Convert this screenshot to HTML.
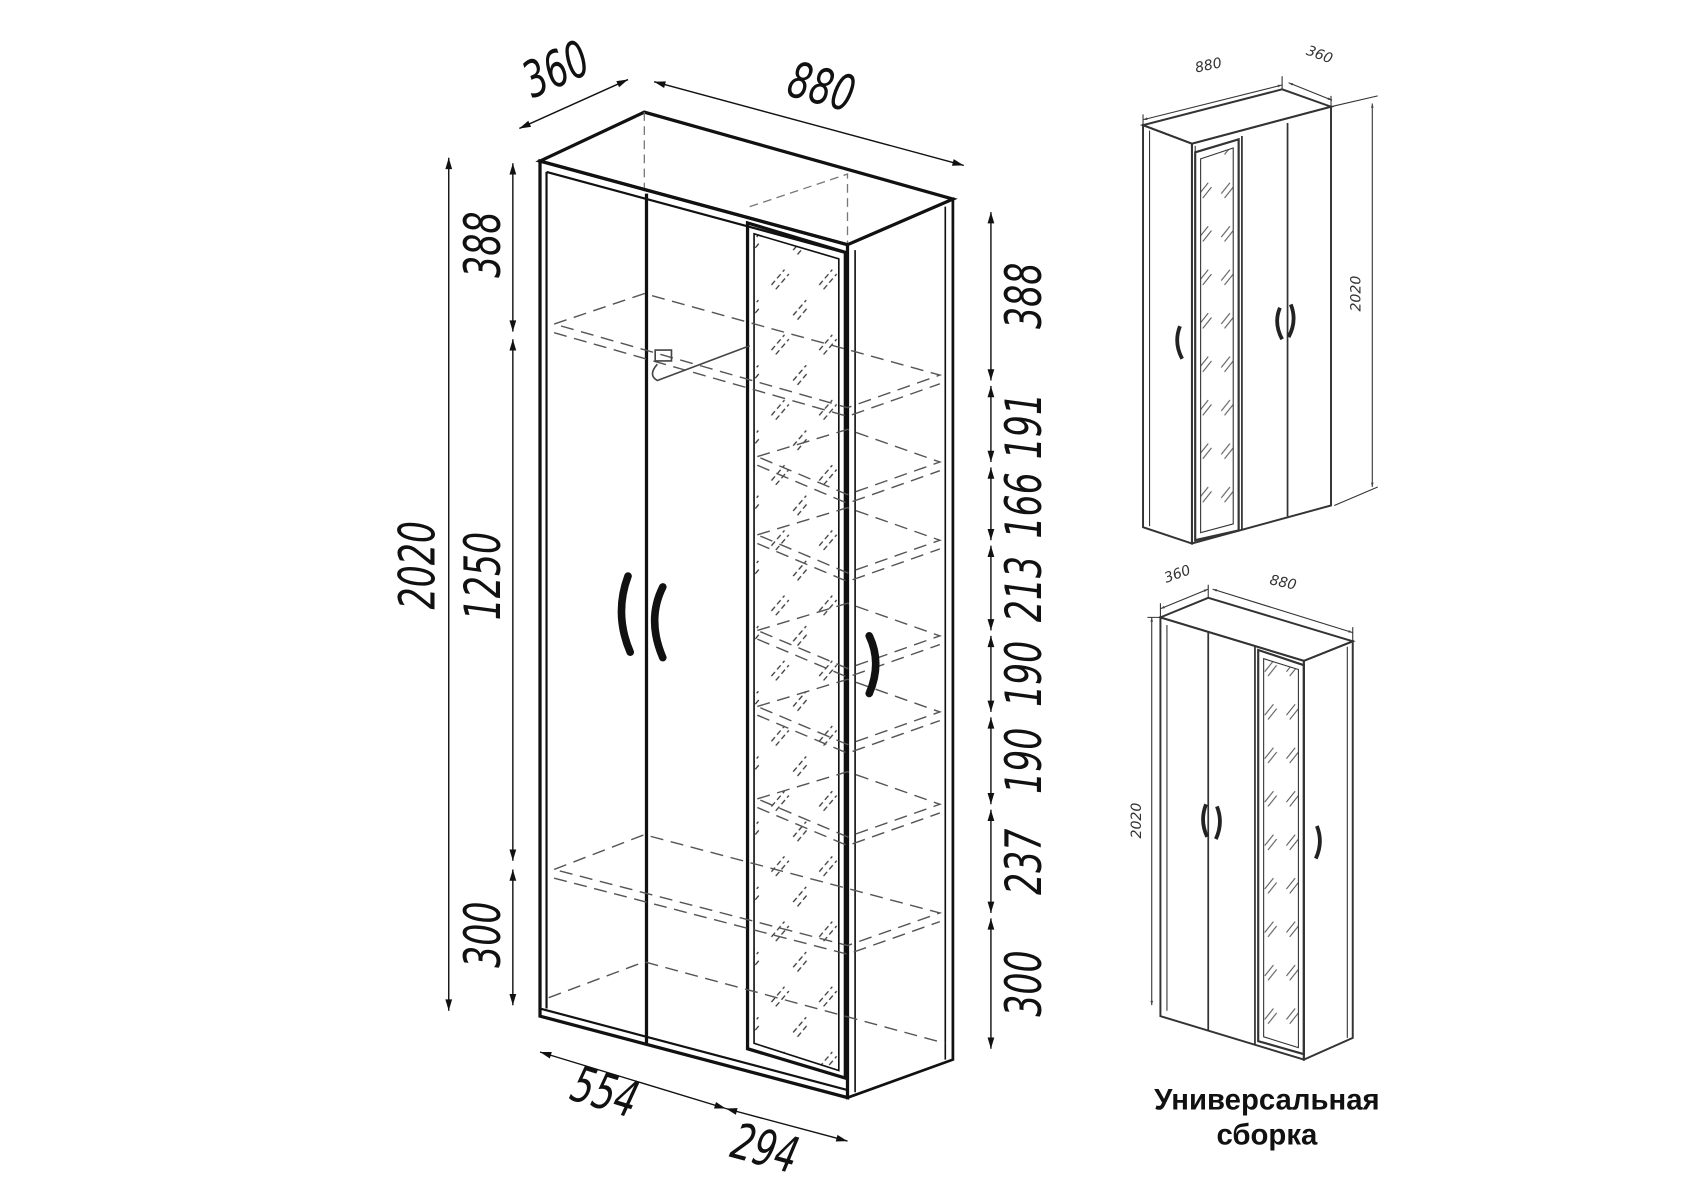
<!DOCTYPE html>
<html><head><meta charset="utf-8"><style>
html,body{margin:0;padding:0;background:#fff;}
svg{display:block}
text{font-family:"DejaVu Sans","Liberation Sans",sans-serif;}
</style></head><body>
<svg width="1695" height="1200" viewBox="0 0 1560 1104" xmlns="http://www.w3.org/2000/svg">
<defs>
<marker id="a" viewBox="0 0 10 10" refX="10" refY="5" markerWidth="12" markerHeight="8" orient="auto-start-reverse"><path d="M0,2 L10,5 L0,8 z" fill="#111"/></marker>
<marker id="s" viewBox="0 0 10 10" refX="10" refY="5" markerWidth="6" markerHeight="4" orient="auto-start-reverse"><path d="M0,2 L10,5 L0,8 z" fill="#444"/></marker>
<pattern id="g" width="44" height="60" patternUnits="userSpaceOnUse">
<path d="M6,22 L18,8 M10,26 L22,12 M26,50 L38,36 M30,54 L40,42" stroke="#333" stroke-width="1.2" stroke-dasharray="5 3"/>
</pattern>
<pattern id="g2" width="20" height="40" patternUnits="userSpaceOnUse">
<path d="M4,18 L12,8 M7,22 L15,12" stroke="#555" stroke-width="1"/>
</pattern>
</defs>

<g fill="none" stroke="#111">
<polygon points="497,148 593,103 877,183 780,225" fill="#fff" stroke-width="3"/>
<path d="M593,103 L593,180 M780,225 L780,230" stroke="#777" stroke-dasharray="8 5" stroke-width="1.2"/>
<path d="M690,190 L780,160 L780,225" stroke="#777" stroke-dasharray="8 5" stroke-width="1.2"/>
<polygon points="497,148 780,225 780,1010 497,935" stroke-width="3"/>
<path d="M503,158 L780,233 M503,158 L503,928 M497,928 L780,1003" stroke-width="2"/>
<polygon points="780,225 877,183 877,975 780,1010" stroke-width="2.5"/>
<path d="M787,230 L787,1005 M870,190 L870,975" stroke-width="1.5"/>
<path d="M595,178 L595,960" stroke-width="3"/>
<polygon points="688,205 778,232 778,992 688,965" stroke-width="3"/>
<polygon points="694,215 772,238 772,985 694,960" stroke-width="1.5" fill="url(#g)"/>
<g stroke="#555" stroke-width="1.3" stroke-dasharray="12 7">
<polygon points="510,298 593,270 865,345 780,375"/>
<path d="M510,306 L780,383 L865,353"/>
<polygon points="510,800 593,768 865,840 780,870"/>
<path d="M510,808 L780,878 L865,848"/>
<path d="M505,918 L593,885 L870,960"/>
<polygon points="697,420 780,395 865,425 780,455"/><path d="M697,428 L780,463 L865,433"/>
<polygon points="697,492 780,467 865,497 780,527"/><path d="M697,500 L780,535 L865,505"/>
<polygon points="697,580 780,555 865,585 780,615"/><path d="M697,588 L780,623 L865,593"/>
<polygon points="697,650 780,625 865,655 780,685"/><path d="M697,658 L780,693 L865,663"/>
<polygon points="697,735 780,710 865,740 780,770"/><path d="M697,743 L780,778 L865,748"/>
</g>
<path d="M603,322 L618,322 L618,332 L603,332 Z M605,335 Q596,345 605,350 L690,318" stroke="#444" stroke-width="1.5"/>
<path d="M578,530 Q565,565 580,600" stroke-width="7" stroke-linecap="round"/>
<path d="M610,540 Q595,570 610,605" stroke-width="7" stroke-linecap="round"/>
<path d="M800,585 Q812,610 800,638" stroke-width="7" stroke-linecap="round"/>
</g>

<g stroke="#111" stroke-width="1.3" fill="none">
<line x1="413" y1="930" x2="413" y2="145" marker-start="url(#a)" marker-end="url(#a)"/>
<line x1="472" y1="150" x2="472" y2="305" marker-start="url(#a)" marker-end="url(#a)"/>
<line x1="472" y1="312" x2="472" y2="792" marker-start="url(#a)" marker-end="url(#a)"/>
<line x1="472" y1="800" x2="472" y2="925" marker-start="url(#a)" marker-end="url(#a)"/>
<line x1="912" y1="195" x2="912" y2="350" marker-start="url(#a)" marker-end="url(#a)"/>
<line x1="912" y1="355" x2="912" y2="425" marker-start="url(#a)" marker-end="url(#a)"/>
<line x1="912" y1="430" x2="912" y2="497" marker-start="url(#a)" marker-end="url(#a)"/>
<line x1="912" y1="502" x2="912" y2="580" marker-start="url(#a)" marker-end="url(#a)"/>
<line x1="912" y1="585" x2="912" y2="655" marker-start="url(#a)" marker-end="url(#a)"/>
<line x1="912" y1="660" x2="912" y2="740" marker-start="url(#a)" marker-end="url(#a)"/>
<line x1="912" y1="745" x2="912" y2="840" marker-start="url(#a)" marker-end="url(#a)"/>
<line x1="912" y1="845" x2="912" y2="965" marker-start="url(#a)" marker-end="url(#a)"/>
<line x1="478" y1="118" x2="578" y2="73" marker-start="url(#a)" marker-end="url(#a)"/>
<line x1="602" y1="75" x2="887" y2="152" marker-start="url(#a)" marker-end="url(#a)"/>
<line x1="497" y1="968" x2="668" y2="1020" marker-start="url(#a)" marker-end="url(#a)"/>
<line x1="668" y1="1020" x2="780" y2="1050" marker-start="url(#a)" marker-end="url(#a)"/>
</g>
<g font-size="40" font-style="italic" fill="#111" text-anchor="middle">
<text transform="translate(400,520) rotate(-90) scale(0.8,1.15)">2020</text>
<text transform="translate(460,530) rotate(-90) scale(0.8,1.15)">1250</text>
<text transform="translate(460,225) rotate(-90) scale(0.8,1.15)">388</text>
<text transform="translate(460,860) rotate(-90) scale(0.8,1.15)">300</text>
<text transform="translate(958,272) rotate(-90) scale(0.8,1.15)">388</text>
<text transform="translate(958,392) rotate(-90) scale(0.8,1.15)">191</text>
<text transform="translate(958,465) rotate(-90) scale(0.8,1.15)">166</text>
<text transform="translate(958,542) rotate(-90) scale(0.8,1.15)">213</text>
<text transform="translate(958,620) rotate(-90) scale(0.8,1.15)">190</text>
<text transform="translate(958,700) rotate(-90) scale(0.8,1.15)">190</text>
<text transform="translate(958,793) rotate(-90) scale(0.8,1.15)">237</text>
<text transform="translate(958,905) rotate(-90) scale(0.8,1.15)">300</text>
<text transform="translate(518,78) rotate(-24) scale(0.8,1.15)">360</text>
<text transform="translate(752,95) rotate(15) scale(0.8,1.15)">880</text>
<text transform="translate(552,1020) rotate(17) scale(0.8,1.15)">554</text>
<text transform="translate(700,1072) rotate(15) scale(0.8,1.15)">294</text>
</g>

<g fill="none" stroke="#333">
<polygon points="1052,115 1180,82 1225,98 1097,132" stroke-width="1.8"/>
<polygon points="1052,115 1097,132 1097,500 1052,485" stroke-width="1.8"/>
<polygon points="1097,132 1225,98 1225,465 1097,500" stroke-width="1.8"/>
<path d="M1058,120 L1058,484 M1100,134 L1100,498" stroke-width="1"/>
<polygon points="1100,140 1140,128 1140,488 1100,497" stroke-width="2"/>
<polygon points="1105,146 1135,136 1135,482 1105,490" fill="url(#g2)" stroke-width="1"/>
<path d="M1143,125 L1143,488 M1185,113 L1185,475" stroke-width="1.6"/>
<path d="M1086,300 Q1080,315 1088,330 M1178,283 Q1172,297 1180,312 M1188,280 Q1194,295 1186,310" stroke-width="3.5" stroke="#222"/>
<g stroke-width="1">
<line x1="1052" y1="110" x2="1180" y2="78" marker-start="url(#s)" marker-end="url(#s)"/>
<line x1="1186" y1="76" x2="1226" y2="92" marker-start="url(#s)" marker-end="url(#s)"/>
<line x1="1263" y1="95" x2="1263" y2="448" marker-start="url(#s)" marker-end="url(#s)"/>
<path d="M1052,115 L1052,105 M1180,82 L1180,70 M1225,98 L1225,88 M1225,98 L1268,88 M1228,465 L1268,448"/>
</g>
</g>
<g fill="#333" font-size="13" font-style="italic" text-anchor="middle">
<text transform="translate(1113,64) rotate(-12)">880</text>
<text transform="translate(1213,54) rotate(20)">360</text>
<text transform="translate(1252,270) rotate(-90)">2020</text>
</g>

<g fill="none" stroke="#333">
<polygon points="1068,568 1112,550 1245,590 1200,608" stroke-width="1.8"/>
<polygon points="1068,568 1200,608 1200,975 1068,935" stroke-width="1.8"/>
<polygon points="1200,608 1245,590 1245,955 1200,975" stroke-width="1.8"/>
<path d="M1074,575 L1074,930 M1240,595 L1240,955" stroke-width="1"/>
<path d="M1112,582 L1112,948 M1155,595 L1155,961" stroke-width="1.6"/>
<polygon points="1158,598 1200,612 1200,970 1158,958" stroke-width="2"/>
<polygon points="1163,606 1195,616 1195,964 1163,954" fill="url(#g2)" stroke-width="1"/>
<path d="M1110,740 Q1104,755 1111,770 M1120,742 Q1126,757 1119,772 M1212,760 Q1218,775 1211,790" stroke-width="3.5" stroke="#222"/>
<g stroke-width="1">
<line x1="1068" y1="560" x2="1112" y2="542" marker-start="url(#s)" marker-end="url(#s)"/>
<line x1="1116" y1="542" x2="1245" y2="582" marker-start="url(#s)" marker-end="url(#s)"/>
<line x1="1060" y1="568" x2="1060" y2="925" marker-start="url(#s)" marker-end="url(#s)"/>
<path d="M1068,568 L1068,555 M1112,550 L1112,538 M1245,590 L1245,577 M1068,568 L1056,568"/>
</g>
</g>
<g fill="#333" font-size="13" font-style="italic" text-anchor="middle">
<text transform="translate(1085,532) rotate(-20)">360</text>
<text transform="translate(1180,540) rotate(12)">880</text>
<text transform="translate(1050,755) rotate(-90)">2020</text>
</g>

<g font-weight="bold" font-size="27" fill="#111" text-anchor="middle">
<text x="1166" y="1021" style="font-family:'Liberation Sans',sans-serif">Универсальная</text>
<text x="1166" y="1053" style="font-family:'Liberation Sans',sans-serif">сборка</text>
</g>
</svg>
</body></html>
